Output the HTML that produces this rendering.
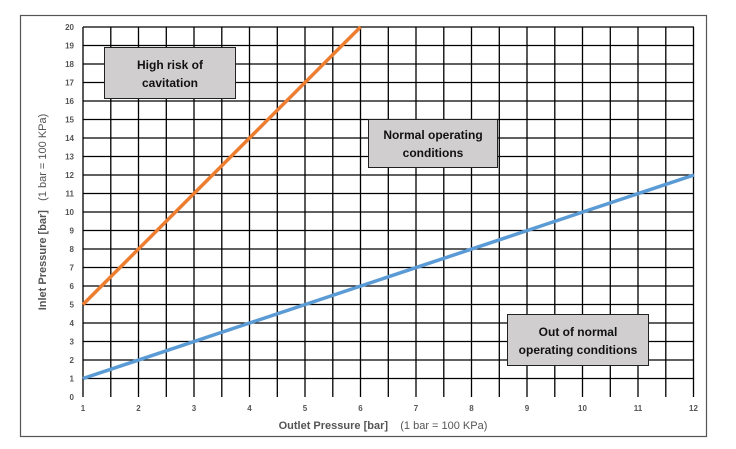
<!DOCTYPE html>
<html><head><meta charset="utf-8"><style>
body{margin:0;background:#fff;}
svg{display:block;font-family:"Liberation Sans",sans-serif;}
</style></head><body>
<svg width="736" height="449" viewBox="0 0 736 449">
<rect x="20.5" y="15.5" width="686" height="421" fill="#fff" stroke="#555" stroke-width="1.2"/>
<g stroke="#000" stroke-width="1.3">
<line x1="83" y1="27" x2="83" y2="397"/><line x1="110.8" y1="27" x2="110.8" y2="397"/><line x1="138.5" y1="27" x2="138.5" y2="397"/><line x1="166.3" y1="27" x2="166.3" y2="397"/><line x1="194" y1="27" x2="194" y2="397"/><line x1="221.8" y1="27" x2="221.8" y2="397"/><line x1="249.5" y1="27" x2="249.5" y2="397"/><line x1="277.3" y1="27" x2="277.3" y2="397"/><line x1="305" y1="27" x2="305" y2="397"/><line x1="332.8" y1="27" x2="332.8" y2="397"/><line x1="360.5" y1="27" x2="360.5" y2="397"/><line x1="388.3" y1="27" x2="388.3" y2="397"/><line x1="416" y1="27" x2="416" y2="397"/><line x1="443.8" y1="27" x2="443.8" y2="397"/><line x1="471.5" y1="27" x2="471.5" y2="397"/><line x1="499.3" y1="27" x2="499.3" y2="397"/><line x1="527" y1="27" x2="527" y2="397"/><line x1="554.8" y1="27" x2="554.8" y2="397"/><line x1="582.5" y1="27" x2="582.5" y2="397"/><line x1="610.3" y1="27" x2="610.3" y2="397"/><line x1="638" y1="27" x2="638" y2="397"/><line x1="665.8" y1="27" x2="665.8" y2="397"/><line x1="693.5" y1="27" x2="693.5" y2="397"/>
<line x1="83" y1="27" x2="694" y2="27"/><line x1="83" y1="45.5" x2="694" y2="45.5"/><line x1="83" y1="64" x2="694" y2="64"/><line x1="83" y1="82.5" x2="694" y2="82.5"/><line x1="83" y1="101" x2="694" y2="101"/><line x1="83" y1="119.5" x2="694" y2="119.5"/><line x1="83" y1="138" x2="694" y2="138"/><line x1="83" y1="156.5" x2="694" y2="156.5"/><line x1="83" y1="175" x2="694" y2="175"/><line x1="83" y1="193.5" x2="694" y2="193.5"/><line x1="83" y1="212" x2="694" y2="212"/><line x1="83" y1="230.5" x2="694" y2="230.5"/><line x1="83" y1="249" x2="694" y2="249"/><line x1="83" y1="267.5" x2="694" y2="267.5"/><line x1="83" y1="286" x2="694" y2="286"/><line x1="83" y1="304.5" x2="694" y2="304.5"/><line x1="83" y1="323" x2="694" y2="323"/><line x1="83" y1="341.5" x2="694" y2="341.5"/><line x1="83" y1="360" x2="694" y2="360"/><line x1="83" y1="378.5" x2="694" y2="378.5"/>
</g>
<line x1="83" y1="304.5" x2="360.5" y2="27" stroke="#ED7D31" stroke-width="3.5"/>
<line x1="83" y1="378.5" x2="694" y2="175" stroke="#5B9BD5" stroke-width="3.5"/>
<g fill="#d0cece" stroke="#222" stroke-width="1">
<rect x="104.5" y="47.5" width="131" height="51"/>
<rect x="368.5" y="119.5" width="129" height="48"/>
<rect x="507.5" y="314.5" width="141" height="51"/>
</g>
<g font-weight="bold" font-size="12" fill="#111" text-anchor="middle">
<text x="170" y="69">High risk of</text><text x="170" y="87">cavitation</text>
<text x="433" y="139">Normal operating</text><text x="433" y="157">conditions</text>
<text x="578" y="336">Out of normal</text><text x="578" y="354">operating conditions</text>
</g>
<g font-size="8" font-weight="bold" fill="#555" text-anchor="end">
<text x="74" y="30">20</text><text x="74" y="48.5">19</text><text x="74" y="67">18</text><text x="74" y="85.5">17</text><text x="74" y="104">16</text><text x="74" y="122.5">15</text><text x="74" y="141">14</text><text x="74" y="159.5">13</text><text x="74" y="178">12</text><text x="74" y="196.5">11</text><text x="74" y="215">10</text><text x="74" y="233.5">9</text><text x="74" y="252">8</text><text x="74" y="270.5">7</text><text x="74" y="289">6</text><text x="74" y="307.5">5</text><text x="74" y="326">4</text><text x="74" y="344.5">3</text><text x="74" y="363">2</text><text x="74" y="381.5">1</text><text x="74" y="400">0</text>
</g>
<g font-size="8" font-weight="bold" fill="#555" text-anchor="middle">
<text x="83" y="411">1</text><text x="138.5" y="411">2</text><text x="194" y="411">3</text><text x="249.5" y="411">4</text><text x="305" y="411">5</text><text x="360.5" y="411">6</text><text x="416" y="411">7</text><text x="471.5" y="411">8</text><text x="527" y="411">9</text><text x="582.5" y="411">10</text><text x="638" y="411">11</text><text x="693.5" y="411">12</text>
</g>
<text x="383" y="429" font-size="11" fill="#555" text-anchor="middle"><tspan font-weight="bold">Outlet Pressure [bar]</tspan>&#160;&#160;&#160;&#160;(1 bar = 100 KPa)</text>
<text transform="translate(46,212) rotate(-90)" font-size="11" fill="#555" text-anchor="middle"><tspan font-weight="bold">Inlet Pressure [bar]</tspan>&#160;&#160;&#160;(1 bar = 100 KPa)</text>
</svg>
</body></html>
